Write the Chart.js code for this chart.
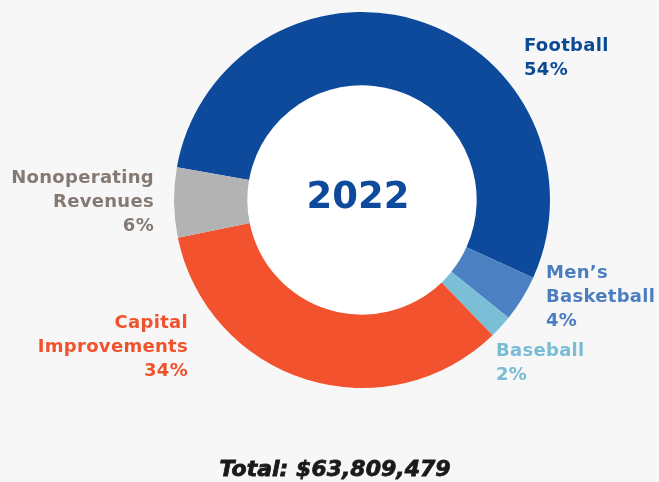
<!DOCTYPE html>
<html>
<head>
<meta charset="utf-8">
<script src="https://cdn.jsdelivr.net/npm/chart.js@4"></script>
<style>
html,body{margin:0;padding:0;background:#f7f7f8;}
#wrap{width:659px;height:482px;position:relative;}
</style>
</head>
<body>
<div id="wrap"><canvas id="c" width="659" height="482"></canvas></div>
<script>
const categories = ["Football", "Men’s Basketball", "Baseball", "Capital Improvements", "Nonoperating Revenues"];
const shares = [54, 4, 2, 34, 6];
const sliceColors = ["#0d4a9b", "#4b80c3", "#7bbfd7", "#f2522e", "#b3b3b3"];
const labelColors = ["#0c4a94", "#4b7ec0", "#79bcd6", "#f0532c", "#857a73"];
const centerTitle = "2022";
const totalText = "Total: $63,809,479";

// label layout: lines, anchor x, first line y, alignment
const labelLayout = [
  {lines: ["Football", shares[0] + "%"], x: 524, y: 46, align: "left"},
  {lines: ["Men’s", "Basketball", shares[1] + "%"], x: 546, y: 273, align: "left"},
  {lines: ["Baseball", shares[2] + "%"], x: 496, y: 351, align: "left"},
  {lines: ["Capital", "Improvements", shares[3] + "%"], x: 188, y: 323, align: "right"},
  {lines: ["Nonoperating", "Revenues", shares[4] + "%"], x: 154, y: 178, align: "right"}
];

const holePlugin = {
  id: "holePlugin",
  beforeDatasetsDraw(chart) {
    const arc = chart.getDatasetMeta(0).data[0];
    const ctx = chart.ctx;
    ctx.save();
    ctx.fillStyle = "#ffffff";
    ctx.beginPath();
    ctx.arc(arc.x, arc.y, arc.outerRadius, 0, Math.PI * 2);
    ctx.fill();
    ctx.restore();
  }
};

const textPlugin = {
  id: "textPlugin",
  afterDraw(chart) {
    const ctx = chart.ctx;
    ctx.save();
    ctx.textBaseline = "middle";
    ctx.font = "bold 18px 'DejaVu Sans'";
    ctx.letterSpacing = "0.3px";
    labelLayout.forEach((l, i) => {
      ctx.fillStyle = labelColors[i];
      ctx.textAlign = l.align;
      l.lines.forEach((t, k) => ctx.fillText(t, l.x, l.y + k * 24));
    });
    ctx.letterSpacing = "0px";
    const arc = chart.getDatasetMeta(0).data[0];
    ctx.textAlign = "center";
    ctx.fillStyle = "#0d4a9b";
    ctx.font = "bold 37px 'DejaVu Sans'";
    ctx.fillText(centerTitle, arc.x - 4, arc.y - 2);
    ctx.fillStyle = "#1a1a1a";
    ctx.strokeStyle = "#1a1a1a";
    ctx.lineWidth = 0.8;
    ctx.font = "italic bold 22px 'DejaVu Sans'";
    ctx.fillText(totalText, 335, 470);
    ctx.strokeText(totalText, 335, 470);
    ctx.restore();
  }
};

new Chart(document.getElementById("c"), {
  type: "doughnut",
  data: {
    labels: categories,
    datasets: [{
      data: shares,
      backgroundColor: sliceColors,
      borderWidth: 0
    }]
  },
  options: {
    responsive: false,
    animation: false,
    cutout: "61%",
    rotation: -80,
    layout: {padding: {top: 12, bottom: 94, left: 174, right: 109}},
    plugins: {legend: {display: false}, tooltip: {enabled: false}}
  },
  plugins: [holePlugin, textPlugin]
});
</script>
</body>
</html>
